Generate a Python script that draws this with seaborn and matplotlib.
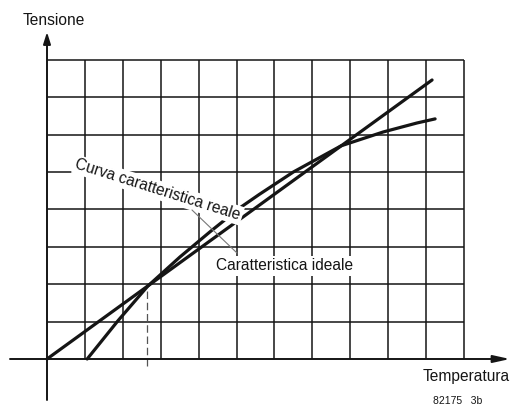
import matplotlib
matplotlib.use("Agg")
import matplotlib.pyplot as plt
import numpy as np
import pandas as pd
import seaborn as sns

# Grid of the chart: 11 temperature divisions, 8 voltage divisions
n_cols = 11
n_rows = 8

# Ideal (linear) characteristic
ideal_x = [0.0, 10.16]
ideal_y = [0.0, 7.46]

# Real characteristic curve
real_x = [1.06, 1.87, 2.66, 3.51, 4.30, 5.10, 5.60, 6.50, 7.76, 8.87, 9.76, 10.24]
real_y = [0.00, 1.02, 1.95, 2.73, 3.40, 4.05, 4.40, 5.00, 5.70, 6.07, 6.31, 6.42]

# Temperature where the two characteristics first meet
cross_x = 2.63
cross_y = 1.93

axis_x_label = "Temperatura"
axis_y_label = "Tensione"
real_label = "Curva caratteristica reale"
ideal_label = "Caratteristica ideale"
fig_code = "82175   3b"

sns.set_style("white")
plt.rcParams["font.family"] = ["Liberation Sans", "DejaVu Sans"]

W, H = 512, 405
OX, OY = 47, 359      # pixel position of the origin
SX, SY = 37.9, 37.4   # pixels per grid division


def px(x, y):
    """Figure pixel (from top-left) -> data coordinates."""
    return (x - OX) / SX, (OY - y) / SY


fig = plt.figure(figsize=(W / 100, H / 100), dpi=100)
ax = fig.add_axes([0, 0, 1, 1])
ax.set_xlim(-OX / SX, (W - OX) / SX)
ax.set_ylim((OY - H) / SY, OY / SY)
ax.axis("off")

ink = "#151515"

# grid
for i in range(1, n_cols + 1):
    ax.plot([i, i], [0, n_rows], color=ink, lw=1.1, zorder=1, solid_capstyle="butt")
for j in range(1, n_rows + 1):
    ax.plot([0, n_cols], [j, j], color=ink, lw=1.1, zorder=1, solid_capstyle="butt")

# axes with arrows
x0, _ = px(10, 0)
x1, _ = px(510, 0)
_, y0 = px(0, 400)
_, y1 = px(0, 32)
ax.annotate("", xy=(x1, 0), xytext=(x0, 0),
            arrowprops=dict(arrowstyle="-|>,head_length=1.0,head_width=0.22",
                            color=ink, lw=1.4, shrinkA=0, shrinkB=0), zorder=2)
ax.annotate("", xy=(0, y1), xytext=(0, y0),
            arrowprops=dict(arrowstyle="-|>,head_length=0.7,head_width=0.22",
                            color=ink, lw=1.4, shrinkA=0, shrinkB=0), zorder=2)

# dashed reference at the first crossing
_, yd = px(0, 366)
ax.plot([cross_x, cross_x], [yd, cross_y], color="#555555", lw=0.9,
        ls=(0, (6, 3)), zorder=1)

# characteristics
ideal_df = pd.DataFrame({"T": ideal_x, "V": ideal_y})
real_df = pd.DataFrame({"T": real_x, "V": real_y})
sns.lineplot(data=ideal_df, x="T", y="V", ax=ax, color=ink, lw=2.3,
             sort=False, zorder=3)
sns.lineplot(data=real_df, x="T", y="V", ax=ax, color=ink, lw=2.3,
             sort=False, zorder=3)

# labels on the curves
tx, ty = px(158, 190)
ax.text(tx, ty, real_label, fontsize=11.2, rotation=-17.5, rotation_mode="anchor",
        ha="center", va="center", color=ink, zorder=4,
        bbox=dict(facecolor="white", edgecolor="none", pad=1.5))
tx, ty = px(285, 266)
ax.text(tx, ty, ideal_label, fontsize=11.2, ha="center", va="center", color=ink,
        zorder=4, bbox=dict(facecolor="white", edgecolor="none", pad=1.5))

# leader line
la = px(192, 210)
lb = px(237, 253)
ax.plot([la[0], lb[0]], [la[1], lb[1]], color="#777777", lw=0.8, zorder=5)

# axis titles
tx, ty = px(54, 20)
ax.text(tx, ty, axis_y_label, fontsize=11.2, ha="center", va="center", color=ink)
tx, ty = px(466, 377)
ax.text(tx, ty, axis_x_label, fontsize=11.2, ha="center", va="center", color=ink)
tx, ty = px(458, 401)
ax.text(tx, ty, fig_code, fontsize=7.5, ha="center", va="center", color=ink)

fig.savefig("out.png", dpi=100, facecolor="white")
